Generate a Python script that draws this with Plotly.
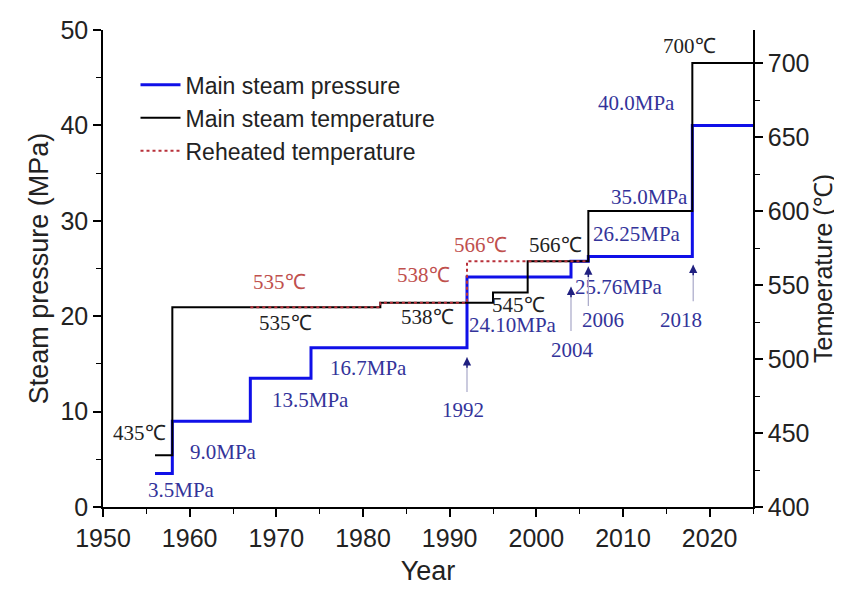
import plotly.graph_objects as go

# ---- data ----
p_years = [1956, 1958, 1967, 1974, 1992, 2004, 2006, 2018, 2025]
p_vals = [3.5, 9.0, 13.5, 16.7, 24.10, 25.76, 26.25, 40.0, 40.0]

t_years = [1956, 1958, 1982, 1995, 1999, 2006, 2018, 2025]
t_vals = [435, 535, 538, 545, 566, 600, 700, 700]

r_years = [1967, 1982, 1992, 2006]
r_vals = [535, 538, 566, 566]

# pressure labels: text, x, y(MPa)
p_labels = ["3.5MPa", "9.0MPa", "13.5MPa", "16.7MPa", "24.10MPa", "25.76MPa", "26.25MPa", "35.0MPa", "40.0MPa"]
p_lab_x = [1959.1, 1963.9, 1973.9, 1980.6, 1997.3, 2009.5, 2011.6, 2013.1, 2011.6]
p_lab_y = [1.8, 5.8, 11.2, 14.6, 19.1, 23.1, 28.6, 32.5, 42.3]

# main steam temperature labels: text, x, y(℃)
t_labels = ["435℃", "535℃", "538℃", "545℃", "566℃", "700℃"]
t_lab_x = [1954.2, 1971.0, 1987.4, 1997.9, 2002.2, 2017.7]
t_lab_y = [450, 524.3, 528.4, 536.5, 577, 711.5]

# reheat temperature labels
r_labels = ["535℃", "538℃", "566℃"]
r_lab_x = [1970.4, 1987.0, 1993.5]
r_lab_y = [552, 556.8, 577]

# year arrows: year, label x, label y, arrow base y, arrow tip y (MPa)
a_years = ["1992", "2004", "2006", "2018"]
a_x = [1992.0, 2004.0, 2006.0, 2018.1]
a_lab_x = [1991.5, 2004.2, 2007.7, 2016.7]
a_lab_y = [10.2, 16.5, 19.6, 19.6]
a_base = [11.9, 18.3, 20.9, 21.4]
a_tip = [15.7, 23.1, 25.2, 25.4]

BLUE = "#1010e8"
BLUE_TXT = "#33339a"
RED = "#b8303a"
RED_TXT = "#c0504d"
SERIF = "Liberation Serif"
SANS = "Liberation Sans"

fig = go.Figure()
fig.add_trace(go.Scatter(x=p_years, y=p_vals, mode="lines", line=dict(shape="hv", color=BLUE, width=3),
                         name="Main steam pressure", yaxis="y"))
fig.add_trace(go.Scatter(x=t_years, y=t_vals, mode="lines", line=dict(shape="hv", color="black", width=2),
                         name="Main steam temperature", yaxis="y2"))
fig.add_trace(go.Scatter(x=r_years, y=r_vals, mode="lines", line=dict(shape="hv", color=RED, width=2, dash="dot"),
                         name="Reheated temperature", yaxis="y2"))

ann = []
for t, x, y in zip(p_labels, p_lab_x, p_lab_y):
    ann.append(dict(text=t, x=x, y=y, xref="x", yref="y", showarrow=False,
                    font=dict(family=SERIF, size=21, color=BLUE_TXT)))
for t, x, y in zip(t_labels, t_lab_x, t_lab_y):
    ann.append(dict(text=t, x=x, y=y, xref="x", yref="y2", showarrow=False,
                    font=dict(family=SERIF, size=21, color="#222222")))
for t, x, y in zip(r_labels, r_lab_x, r_lab_y):
    ann.append(dict(text=t, x=x, y=y, xref="x", yref="y2", showarrow=False,
                    font=dict(family=SERIF, size=21, color=RED_TXT)))
for t, x, lx, ly, b, tip in zip(a_years, a_x, a_lab_x, a_lab_y, a_base, a_tip):
    ann.append(dict(text=t, x=lx, y=ly, xref="x", yref="y", showarrow=False,
                    font=dict(family=SERIF, size=21, color=BLUE_TXT)))
    # light shaft
    ann.append(dict(text="", x=x, y=tip, ax=x, ay=b, xref="x", yref="y", axref="x", ayref="y",
                    showarrow=True, arrowhead=0, arrowwidth=1.2, arrowcolor="#a8a8c8"))
    # dark head
    ann.append(dict(text="", x=x, y=tip, ax=0, ay=12, xref="x", yref="y",
                    showarrow=True, arrowhead=2, arrowsize=1.1, arrowwidth=1.5, arrowcolor="#202080"))

# page body has an 8px margin, so the figure is 8px smaller and margins shifted
fig.update_layout(
    width=834, height=591,
    margin=dict(l=95, r=89, t=22, b=92, autoexpand=False),
    paper_bgcolor="white", plot_bgcolor="white",
    font=dict(family=SANS, size=26, color="#222222"),
    showlegend=True,
    legend=dict(x=0.05, y=0.93, xanchor="left", yanchor="top", bgcolor="rgba(0,0,0,0)",
                font=dict(family=SANS, size=23, color="#222222"), tracegroupgap=0, itemwidth=40),
    xaxis=dict(range=[1950, 2025], dtick=10, tick0=1950, showline=True, linecolor="black", linewidth=1.5,
               ticks="outside", ticklen=8, tickwidth=1.5, tickcolor="black", showgrid=False, zeroline=False,
               automargin=False,
               minor=dict(dtick=5, ticks="outside", ticklen=5, tickwidth=1.2, tickcolor="black"),
               title=dict(text="Year", font=dict(size=27), standoff=10),
               tickfont=dict(size=25)),
    yaxis=dict(range=[0, 50], dtick=10, showline=True, linecolor="black", linewidth=1.5,
               ticks="outside", ticklen=8, tickwidth=1.5, tickcolor="black", showgrid=False, zeroline=False,
               automargin=False,
               minor=dict(dtick=5, ticks="outside", ticklen=5, tickwidth=1.2, tickcolor="black"),
               title=dict(text="Steam pressure (MPa)", font=dict(size=27), standoff=4),
               tickfont=dict(size=25)),
    yaxis2=dict(range=[400, 722.3], dtick=50, tick0=400, overlaying="y", side="right", showline=True,
                linecolor="black", linewidth=1.5, ticks="outside", ticklen=8, tickwidth=1.5, tickcolor="black",
                showgrid=False, zeroline=False, automargin=False,
                minor=dict(dtick=25, ticks="outside", ticklen=5, tickwidth=1.2, tickcolor="black"),
                title=dict(text="Temperature (℃)", font=dict(size=25), standoff=6),
                tickfont=dict(size=25)),
    annotations=ann,
)

fig.write_html("out.html")
